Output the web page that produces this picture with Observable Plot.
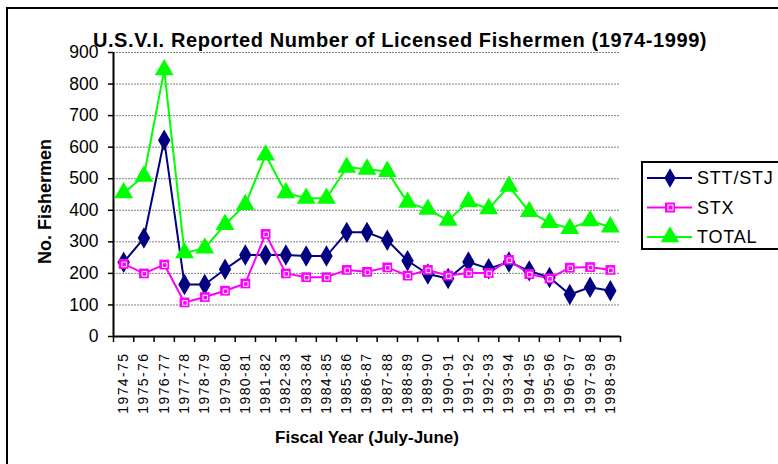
<!DOCTYPE html>
<html>
<head>
<meta charset="utf-8">
<script src="https://cdn.jsdelivr.net/npm/d3@7"></script>
<script src="https://cdn.jsdelivr.net/npm/@observablehq/plot@0.6"></script>
<style>
  body { margin: 0; background: #fff; }
  #wrap { position: relative; width: 778px; height: 464px; overflow: hidden; background: #fff; font-family: "Liberation Sans", Arial, sans-serif; }
  #border { position: absolute; left: 6px; top: 7px; width: 900px; height: 600px; border: 2px solid #000; box-sizing: border-box; }
  #chart { position: absolute; left: 0; top: 0; }
  #legend { position: absolute; left: 641px; top: 161px; width: 200px; height: 89px; border: 2px solid #000; box-sizing: border-box; background: #fff; }
</style>
</head>
<body>
<div id="wrap">
  <div id="border"></div>
  <div id="chart"></div>
  <div id="legend"></div>
</div>
<script>
const years = ["1974-75","1975-76","1976-77","1977-78","1978-79","1979-80","1980-81","1981-82","1982-83","1983-84","1984-85","1985-86","1986-87","1987-88","1988-89","1989-90","1990-91","1991-92","1992-93","1993-94","1994-95","1995-96","1996-97","1997-98","1998-99"];
const stt   = [235, 312, 622, 165, 165, 213, 258, 258, 258, 255, 255, 330, 330, 305, 240, 198, 184, 236, 215, 236, 208, 187, 133, 156, 145];
const stx   = [230, 200, 228, 108, 125, 145, 168, 325, 200, 188, 188, 211, 205, 219, 193, 211, 193, 201, 201, 243, 198, 184, 218, 220, 211];
const total = [455, 508, 845, 265, 280, 355, 418, 575, 455, 438, 438, 536, 530, 523, 425, 403, 368, 427, 405, 476, 396, 361, 342, 367, 347];
const yTicks = [0, 100, 200, 300, 400, 500, 600, 700, 800, 900];
const seriesNames = ["STT/STJ", "STX", "TOTAL"];
const seriesColors = ["#000080", "#FF00FF", "#00FF00"];
const titleText = "U.S.V.I. Reported Number of Licensed Fishermen (1974-1999)";
const yLabel = "No. Fishermen";
const xLabel = "Fiscal Year (July-June)";

const rows = (vals) => vals.map((v, i) => ({i, year: years[i], v}));
const dSTT = rows(stt), dSTX = rows(stx), dTOT = rows(total);
const bounds = d3.range(-0.5, years.length, 1);

const chart = Plot.plot({
  width: 778,
  height: 464,
  marginLeft: 113,
  marginRight: 158,
  marginTop: 52,
  marginBottom: 128,
  style: {fontFamily: '"Liberation Sans", Arial, sans-serif', background: "transparent", overflow: "visible"},
  x: {type: "linear", domain: [-0.5, years.length - 0.5]},
  y: {domain: [0, 900]},
  marks: [
    Plot.gridY(yTicks.filter(d => d > 0), {stroke: "#808080", strokeOpacity: 1, strokeWidth: 1, strokeDasharray: "2,1"}),
    Plot.axisY({ticks: yTicks, tickSize: 5, tickPadding: 10, tickFormat: d => String(d), label: null, fontSize: 17.5, stroke: "#000", strokeWidth: 1.5, color: "#000"}),
    Plot.axisX({ticks: bounds, tickSize: 6, tickFormat: () => "", label: null, stroke: "#000", strokeWidth: 1.5}),
    Plot.ruleX([-0.5], {stroke: "#000", strokeWidth: 2}),
    Plot.ruleY([0], {stroke: "#000", strokeWidth: 2}),
    Plot.text(years, {x: (d, i) => i, frameAnchor: "bottom", dy: 16, rotate: -90, textAnchor: "end", lineAnchor: "middle", fontSize: 14, fill: "#000"}),
    // series lines
    Plot.line(dTOT, {x: "i", y: "v", stroke: seriesColors[2], strokeWidth: 2}),
    Plot.line(dSTT, {x: "i", y: "v", stroke: seriesColors[0], strokeWidth: 2}),
    Plot.line(dSTX, {x: "i", y: "v", stroke: seriesColors[1], strokeWidth: 2}),
    // markers
    Plot.dot(dTOT, {x: "i", y: "v", symbol: "triangle", r: 7, fill: seriesColors[2], stroke: "none"}),
    Plot.dot(dSTT, {x: "i", y: "v", symbol: "diamond", r: 6.5, fill: seriesColors[0], stroke: "none"}),
    Plot.dot(dSTX, {x: "i", y: "v", symbol: "square", r: 5.5, fill: seriesColors[1], stroke: "none"}),
    Plot.dot(dSTX, {x: "i", y: "v", symbol: "square", r: 2.6, fill: "none", stroke: "#fff", strokeWidth: 1, dx: 0.5, dy: 0.5}),
    // titles
    Plot.text([titleText], {frameAnchor: "top", dx: 33, dy: -12, textAnchor: "middle", lineAnchor: "middle", fontSize: 20, fontWeight: "bold", fill: "#000"}),
    Plot.text([yLabel], {frameAnchor: "left", dx: -68, dy: 7, rotate: -90, textAnchor: "middle", lineAnchor: "middle", fontSize: 18, fontWeight: "bold", fill: "#000"}),
    Plot.text([xLabel], {frameAnchor: "bottom", dy: 101, textAnchor: "middle", lineAnchor: "middle", fontSize: 17, fontWeight: "bold", fill: "#000"})
  ]
});
document.getElementById("chart").appendChild(chart);

// widen text like the original rendering
const svgSel = d3.select(chart);
svgSel.selectAll("text").filter(function() { return years.includes(this.textContent); }).style("letter-spacing", "1.4px");
svgSel.selectAll("text").filter(function() { return this.textContent === titleText; }).style("letter-spacing", "0.6px");

// legend
const lg = d3.select("#legend").append("svg").attr("width", 200).attr("height", 89);
const symbols = [d3.symbolDiamond, d3.symbolSquare, d3.symbolTriangle];
const symSizes = [110, 100, 150];
seriesNames.forEach((name, k) => {
  const y = 15 + k * 29.5;
  lg.append("line").attr("x1", 4).attr("x2", 49).attr("y1", y).attr("y2", y).attr("stroke", seriesColors[k]).attr("stroke-width", 2);
  lg.append("path").attr("transform", `translate(27,${y})`).attr("d", d3.symbol(symbols[k], symSizes[k])()).attr("fill", seriesColors[k]);
  if (k === 1) lg.append("rect").attr("x", 25).attr("y", y - 2.5).attr("width", 5).attr("height", 5).attr("fill", "none").attr("stroke", "#fff").attr("stroke-width", 1);
  lg.append("text").attr("x", 54).attr("y", y).attr("dy", "0.36em").attr("font-size", 18).attr("font-family", '"Liberation Sans", Arial, sans-serif').style("letter-spacing", "0.8px").attr("fill", "#000").text(name);
});
</script>
</body>
</html>
